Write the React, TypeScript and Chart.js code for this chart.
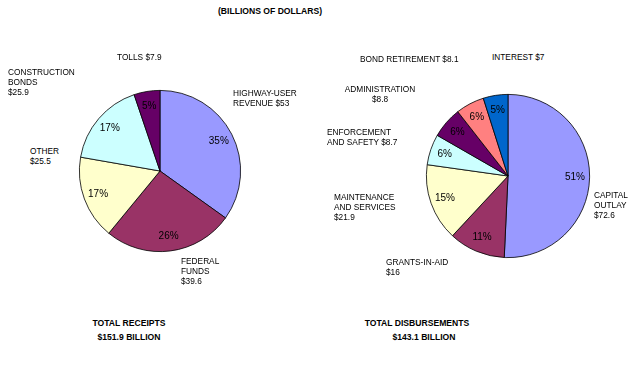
import React, { useEffect, useRef } from "react";
import { Chart, registerables } from "chart.js";

Chart.register(...registerables);

// ---- DATA ----
const receiptCategories = ["HIGHWAY-USER REVENUE", "FEDERAL FUNDS", "OTHER", "CONSTRUCTION BONDS", "TOLLS"];
const receiptValues = [53, 39.6, 25.5, 25.9, 7.9];
const receiptColors = ["#9999FF", "#993366", "#FFFFCC", "#CCFFFF", "#660066"];
const receiptLabelLines = [
  ["HIGHWAY-USER", "REVENUE $53"],
  ["FEDERAL", "FUNDS", "$39.6"],
  ["OTHER", "$25.5"],
  ["CONSTRUCTION", "BONDS", "$25.9"],
  ["TOLLS $7.9"],
];

const disbCategories = [
  "CAPITAL OUTLAY",
  "GRANTS-IN-AID",
  "MAINTENANCE AND SERVICES",
  "ENFORCEMENT AND SAFETY",
  "ADMINISTRATION",
  "BOND RETIREMENT",
  "INTEREST",
];
const disbValues = [72.6, 16, 21.9, 8.7, 8.8, 8.1, 7];
const disbColors = ["#9999FF", "#993366", "#FFFFCC", "#CCFFFF", "#660066", "#FF8080", "#0066CC"];
const disbLabelLines = [
  ["CAPITAL", "OUTLAY", "$72.6"],
  ["GRANTS-IN-AID", "$16"],
  ["MAINTENANCE", "AND SERVICES", "$21.9"],
  ["ENFORCEMENT", "AND SAFETY $8.7"],
  ["ADMINISTRATION", "$8.8"],
  ["BOND RETIREMENT $8.1"],
  ["INTEREST $7"],
];

const titleText = "(BILLIONS OF DOLLARS)";
const receiptTotalLines = ["TOTAL RECEIPTS", "$151.9 BILLION"];
const disbTotalLines = ["TOTAL DISBURSEMENTS", "$143.1 BILLION"];

// ---- LAYOUT ----
const FONT = "'Liberation Sans', Arial, sans-serif";

const receiptLabelPos = [
  { left: 233, top: 88, align: "left" },
  { left: 181, top: 256, align: "left" },
  { left: 30, top: 146, align: "left" },
  { left: 8, top: 67, align: "left" },
  { left: 117, top: 52, align: "left" },
];
const disbLabelPos = [
  { left: 594, top: 190, align: "left" },
  { left: 386, top: 257, align: "left" },
  { left: 334, top: 192, align: "left" },
  { left: 327, top: 127, align: "left" },
  { left: 340, top: 84, align: "center", width: 80 },
  { left: 360, top: 54, align: "left" },
  { left: 492, top: 52, align: "left" },
];

const pctPlugin = {
  id: "pctLabels",
  afterDatasetsDraw(chart: any) {
    const ctx = chart.ctx;
    const ds = chart.data.datasets[0];
    const vals: number[] = ds.data;
    const total = vals.reduce((a, b) => a + b, 0);
    const meta = chart.getDatasetMeta(0);
    ctx.save();
    ctx.font = `10px ${FONT}`;
    ctx.fillStyle = "#000";
    ctx.textAlign = "center";
    ctx.textBaseline = "middle";
    meta.data.forEach((arc: any, i: number) => {
      const p = arc.getProps(["x", "y", "startAngle", "endAngle", "outerRadius"], true);
      const mid = (p.startAngle + p.endAngle) / 2;
      const r = p.outerRadius * 0.82;
      const pct = Math.round((vals[i] / total) * 100);
      ctx.fillText(pct + "%", p.x + Math.cos(mid) * r, p.y + Math.sin(mid) * r);
    });
    ctx.restore();
  },
};

function Pie(props: { labels: string[]; values: number[]; colors: string[]; left: number; top: number; size: number }) {
  const ref = useRef<HTMLCanvasElement>(null);
  useEffect(() => {
    if (!ref.current) return;
    const chart = new Chart(ref.current, {
      type: "pie",
      data: {
        labels: props.labels,
        datasets: [
          {
            data: props.values,
            backgroundColor: props.colors,
            borderColor: "#000",
            borderWidth: 0.8,
          },
        ],
      },
      options: {
        animation: false,
        responsive: false,
        maintainAspectRatio: false,
        layout: { padding: 5 },
        plugins: { legend: { display: false }, tooltip: { enabled: false }, title: { display: false } },
      },
      plugins: [pctPlugin],
    });
    return () => chart.destroy();
  }, []);
  return (
    <canvas
      ref={ref}
      width={props.size}
      height={props.size}
      style={{ position: "absolute", left: props.left, top: props.top, width: props.size, height: props.size }}
    />
  );
}

function Label(props: { lines: string[]; pos: any; bold?: boolean; size?: number }) {
  const p = props.pos;
  return (
    <div
      style={{
        position: "absolute",
        left: p.left,
        top: p.top,
        width: p.width,
        textAlign: p.align,
        fontFamily: FONT,
        fontSize: props.size ?? 8.3,
        fontWeight: props.bold ? "bold" : "normal",
        lineHeight: "10px",
        whiteSpace: "nowrap",
        color: "#000",
      }}
    >
      {props.lines.map((l, i) => (
        <div key={i}>{l}</div>
      ))}
    </div>
  );
}

export default function App() {
  return (
    <div style={{ position: "absolute", left: 0, top: 0, width: 637, height: 372, background: "#fff", overflow: "hidden" }}>
      <Label lines={[titleText]} pos={{ left: 170, top: 6, width: 200, align: "center" }} bold size={8.6} />
      <Pie labels={receiptCategories} values={receiptValues} colors={receiptColors} left={74} top={85} size={172} />
      <Pie labels={disbCategories} values={disbValues} colors={disbColors} left={421} top={89} size={174} />
      {receiptLabelLines.map((lines, i) => (
        <Label key={"r" + i} lines={lines} pos={receiptLabelPos[i]} />
      ))}
      {disbLabelLines.map((lines, i) => (
        <Label key={"d" + i} lines={lines} pos={disbLabelPos[i]} />
      ))}
      <div style={{ position: "absolute", left: 79, top: 316, width: 100, textAlign: "center", fontFamily: FONT, fontSize: 8.6, fontWeight: "bold", lineHeight: "14px" }}>
        {receiptTotalLines.map((l, i) => (
          <div key={i}>{l}</div>
        ))}
      </div>
      <div style={{ position: "absolute", left: 357, top: 316, width: 120, textAlign: "center", fontFamily: FONT, fontSize: 8.6, fontWeight: "bold", lineHeight: "14px" }}>
        <div>{disbTotalLines[0]}</div>
        <div style={{ paddingLeft: 14 }}>{disbTotalLines[1]}</div>
      </div>
    </div>
  );
}
